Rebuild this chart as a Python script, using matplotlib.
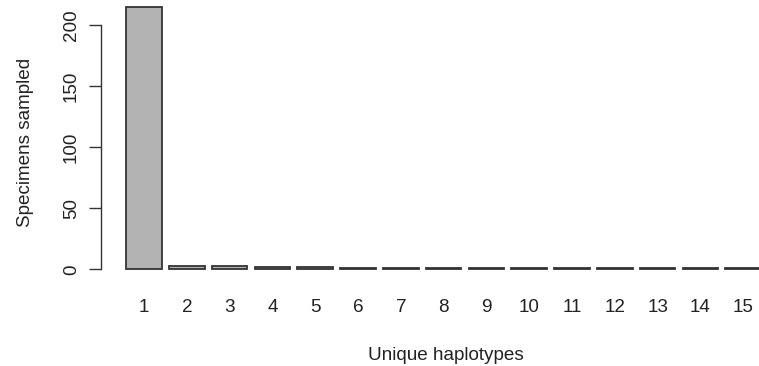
import matplotlib
matplotlib.use("Agg")
import matplotlib.pyplot as plt
import numpy as np

plt.rcParams['font.family'] = ['Liberation Sans', 'DejaVu Sans']

haplotypes = ['1', '2', '3', '4', '5', '6', '7', '8', '9', '10', '11', '12', '13', '14', '15']
specimens = [215, 3, 3, 2, 2, 1, 1, 1, 1, 1, 1, 1, 1, 1, 1]
yticks = [0, 50, 100, 150, 200]

W, H = 759, 366
fig = plt.figure(figsize=(W / 100, H / 100), dpi=100)

# R barplot geometry: width 1, space 0.2
centers = 0.7 + 1.2 * np.arange(len(specimens))
xlim = (-0.512, 18.712)
ylim = (-8.6, 223.6)

left_px, right_px = 100.8, 786.5
bottom_px, top_px = 279.8, -3.8
ax = fig.add_axes([left_px / W, (H - bottom_px) / H,
                   (right_px - left_px) / W, (bottom_px - top_px) / H])

ax.bar(centers, specimens, width=1.0, color='#b3b3b3', edgecolor='#333333',
       linewidth=1.3)
ax.set_xlim(*xlim)
ax.set_ylim(*ylim)

fs = 13.6
ax.set_xticks(centers)
ax.set_xticklabels(haplotypes, fontsize=fs, color='#222222')
ax.tick_params(axis='x', length=0, pad=14)

ax.set_yticks(yticks)
ax.set_yticklabels([str(v) for v in yticks], fontsize=fs, color='#222222',
                   rotation=90, va='center')
ax.tick_params(axis='y', length=8.4, width=1.0, color='#333333', pad=6.7)

for s in ['top', 'right', 'bottom']:
    ax.spines[s].set_visible(False)
ax.spines['left'].set_bounds(0, 200)
ax.spines['left'].set_color('#333333')
ax.spines['left'].set_linewidth(1.0)
ax.patch.set_alpha(0)

fig.text(26 / W, (H - 142) / H, 'Specimens sampled', rotation=90,
         ha='center', va='center', fontsize=fs, color='#222222')
fig.text(446 / W, (H - 355.5) / H, 'Unique haplotypes',
         ha='center', va='center', fontsize=fs, color='#222222')

fig.savefig('out.png', dpi=100)
